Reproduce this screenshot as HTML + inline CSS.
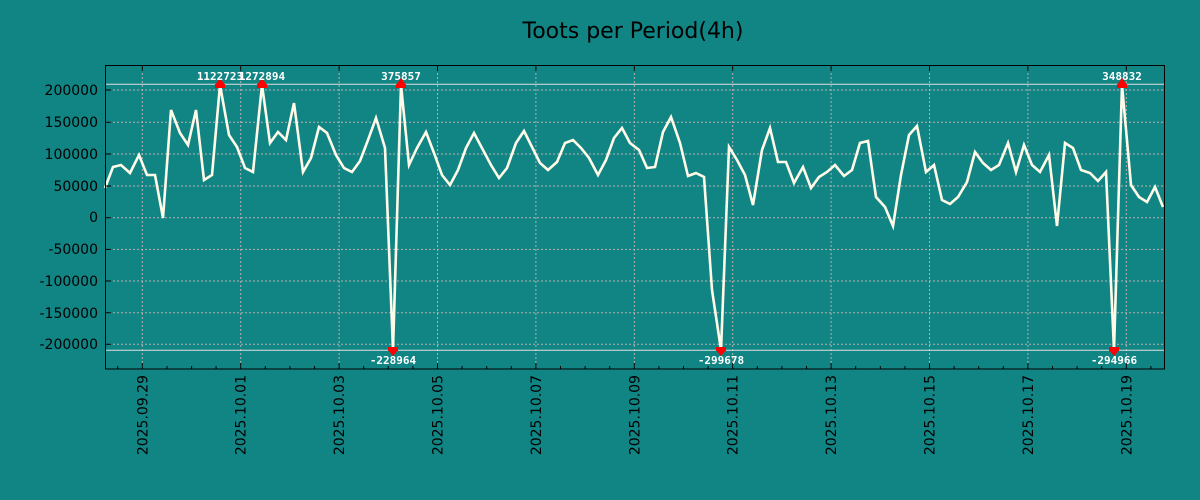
<!DOCTYPE html>
<html><head><style>
body{margin:0;background:#118484;}
svg{display:block;font-family:"DejaVu Sans","Liberation Sans",sans-serif;}
</style></head><body>
<svg width="1200" height="500" viewBox="0 0 1200 500">
<rect width="1200" height="500" fill="#118484"/>
<text x="633" y="38" font-size="22" text-anchor="middle" fill="#000">Toots per Period(4h)</text>
<g stroke="#b8b0b0" stroke-width="1" stroke-dasharray="2,2">
<line x1="105" x2="1165" y1="90" y2="90"/><line x1="105" x2="1165" y1="122.3" y2="122.3"/>
<line x1="105" x2="1165" y1="154" y2="154"/><line x1="105" x2="1165" y1="186" y2="186"/>
<line x1="105" x2="1165" y1="217.7" y2="217.7"/><line x1="105" x2="1165" y1="249.4" y2="249.4"/>
<line x1="105" x2="1165" y1="281" y2="281"/><line x1="105" x2="1165" y1="312.7" y2="312.7"/>
<line x1="105" x2="1165" y1="344.3" y2="344.3"/>
<line x1="142.3" x2="142.3" y1="65" y2="369"/><line x1="240.7" x2="240.7" y1="65" y2="369"/>
<line x1="339.1" x2="339.1" y1="65" y2="369"/><line x1="437.5" x2="437.5" y1="65" y2="369"/>
<line x1="535.9" x2="535.9" y1="65" y2="369"/><line x1="634.3" x2="634.3" y1="65" y2="369"/>
<line x1="732.7" x2="732.7" y1="65" y2="369"/><line x1="831.1" x2="831.1" y1="65" y2="369"/>
<line x1="929.5" x2="929.5" y1="65" y2="369"/><line x1="1027.9" x2="1027.9" y1="65" y2="369"/>
<line x1="1126.3" x2="1126.3" y1="65" y2="369"/>
</g>
<line x1="105" x2="1165" y1="84.3" y2="84.3" stroke="#e0e0e0" stroke-width="1"/>
<line x1="105" x2="1165" y1="350.3" y2="350.3" stroke="#e0e0e0" stroke-width="1"/>
<polyline fill="none" stroke="#fffbe8" stroke-width="2.6" stroke-linejoin="miter" points="105,188 113,167 121,165 130,173 139,155 147,175 155,175 163,218 171,110 180,133 188,145 196,110 204,180 212,175 220,85 229,135 237,147 245,168 253,172 262,85 270,143 278,132 286,140 294,103 303,172 311,158 319,127 327,133 336,155 344,168 352,172 360,161 368,140 376,118 385,148 393,350 401,85 409,165 417,148 426,132 434,153 442,175 450,185 458,170 466,148 474,133 483,150 491,165 499,178 507,168 516,143 524,131 532,147 540,163 548,170 557,162 565,143 573,140 581,148 589,158 598,175 606,160 614,138 622,128 630,143 639,150 647,168 655,167 663,132 671,117 680,143 688,176 696,173 704,177 712,290 721,350 729,147 737,160 745,175 753,205 762,150 770,128 778,162 786,162 794,183 803,167 811,188 819,177 827,172 835,165 844,176 852,170 860,143 868,141 876,197 885,207 893,226 901,175 909,135 917,126 926,172 934,165 942,200 950,204 958,197 967,182 975,152 983,163 991,170 999,165 1008,143 1016,172 1024,145 1032,165 1040,172 1049,155 1057,226 1065,143 1073,148 1081,170 1090,173 1098,181 1106,172 1114,350 1122,85 1131,185 1139,197 1147,202 1155,187 1163,207"/>
<g fill="#ff0000">
<polygon points="215,85 225,85 220,78"/><rect x="215" y="84" width="10" height="4"/>
<polygon points="257,85 267,85 262,78"/><rect x="257" y="84" width="10" height="4"/>
<polygon points="396,85 406,85 401,78"/><rect x="396" y="84" width="10" height="4"/>
<polygon points="1117,85 1127,85 1122,78"/><rect x="1117" y="84" width="10" height="4"/>
<polygon points="388,350 398,350 393,356"/><rect x="388" y="347" width="10" height="4"/>
<polygon points="716,350 726,350 721,356"/><rect x="716" y="347" width="10" height="4"/>
<polygon points="1109,350 1119,350 1114,356"/><rect x="1109" y="347" width="10" height="4"/>
</g>
<g fill="#fff" font-size="11" font-weight="bold" text-anchor="middle" font-family="'DejaVu Sans Mono','Liberation Mono',monospace">
<text x="220" y="80">1122723</text><text x="262" y="80">1272894</text>
<text x="401" y="80">375857</text><text x="1122" y="80">348832</text>
<text x="393" y="364">-228964</text><text x="721" y="364">-299678</text>
<text x="1114" y="364">-294966</text>
</g>
<rect x="105.5" y="65.5" width="1059" height="303.5" fill="none" stroke="#000" stroke-width="1"/>
<g stroke="#000" stroke-width="1">
<path d="M142.3,369v-6M240.7,369v-6M339.1,369v-6M437.5,369v-6M535.9,369v-6M634.3,369v-6M732.7,369v-6M831.1,369v-6M929.5,369v-6M1027.9,369v-6M1126.3,369v-6"/>
<path d="M142.3,65v6M240.7,65v6M339.1,65v6M437.5,65v6M535.9,65v6M634.3,65v6M732.7,65v6M831.1,65v6M929.5,65v6M1027.9,65v6M1126.3,65v6"/>
<path d="M117.7,369v-3M167,369v-3M191.6,369v-3M216.1,369v-3M265.3,369v-3M289.9,369v-3M314.5,369v-3M363.7,369v-3M388.3,369v-3M412.9,369v-3M462.1,369v-3M486.7,369v-3M511.3,369v-3M560.5,369v-3M585.1,369v-3M609.7,369v-3M658.9,369v-3M683.5,369v-3M708.1,369v-3M757.3,369v-3M781.9,369v-3M806.5,369v-3M855.7,369v-3M880.3,369v-3M904.9,369v-3M954.1,369v-3M978.7,369v-3M1003.3,369v-3M1052.5,369v-3M1077.1,369v-3M1101.7,369v-3M1150.9,369v-3"/>
<path d="M105,90h6M105,122.3h6M105,154h6M105,186h6M105,217.7h6M105,249.4h6M105,281h6M105,312.7h6M105,344.3h6"/>
</g>
<g font-size="14" fill="#000" text-anchor="end">
<text x="98" y="95">200000</text><text x="98" y="127">150000</text>
<text x="98" y="159">100000</text><text x="98" y="191">50000</text>
<text x="98" y="222">0</text><text x="98" y="254">-50000</text>
<text x="98" y="286">-100000</text><text x="98" y="318">-150000</text>
<text x="98" y="349">-200000</text>
</g>
<g font-size="14" fill="#000" text-anchor="end">
<text transform="translate(147.3,375) rotate(-90)">2025.09.29</text>
<text transform="translate(245.7,375) rotate(-90)">2025.10.01</text>
<text transform="translate(344.1,375) rotate(-90)">2025.10.03</text>
<text transform="translate(442.5,375) rotate(-90)">2025.10.05</text>
<text transform="translate(540.9,375) rotate(-90)">2025.10.07</text>
<text transform="translate(639.3,375) rotate(-90)">2025.10.09</text>
<text transform="translate(737.7,375) rotate(-90)">2025.10.11</text>
<text transform="translate(836.1,375) rotate(-90)">2025.10.13</text>
<text transform="translate(934.5,375) rotate(-90)">2025.10.15</text>
<text transform="translate(1032.9,375) rotate(-90)">2025.10.17</text>
<text transform="translate(1131.3,375) rotate(-90)">2025.10.19</text>
</g>
</svg>
</body></html>
